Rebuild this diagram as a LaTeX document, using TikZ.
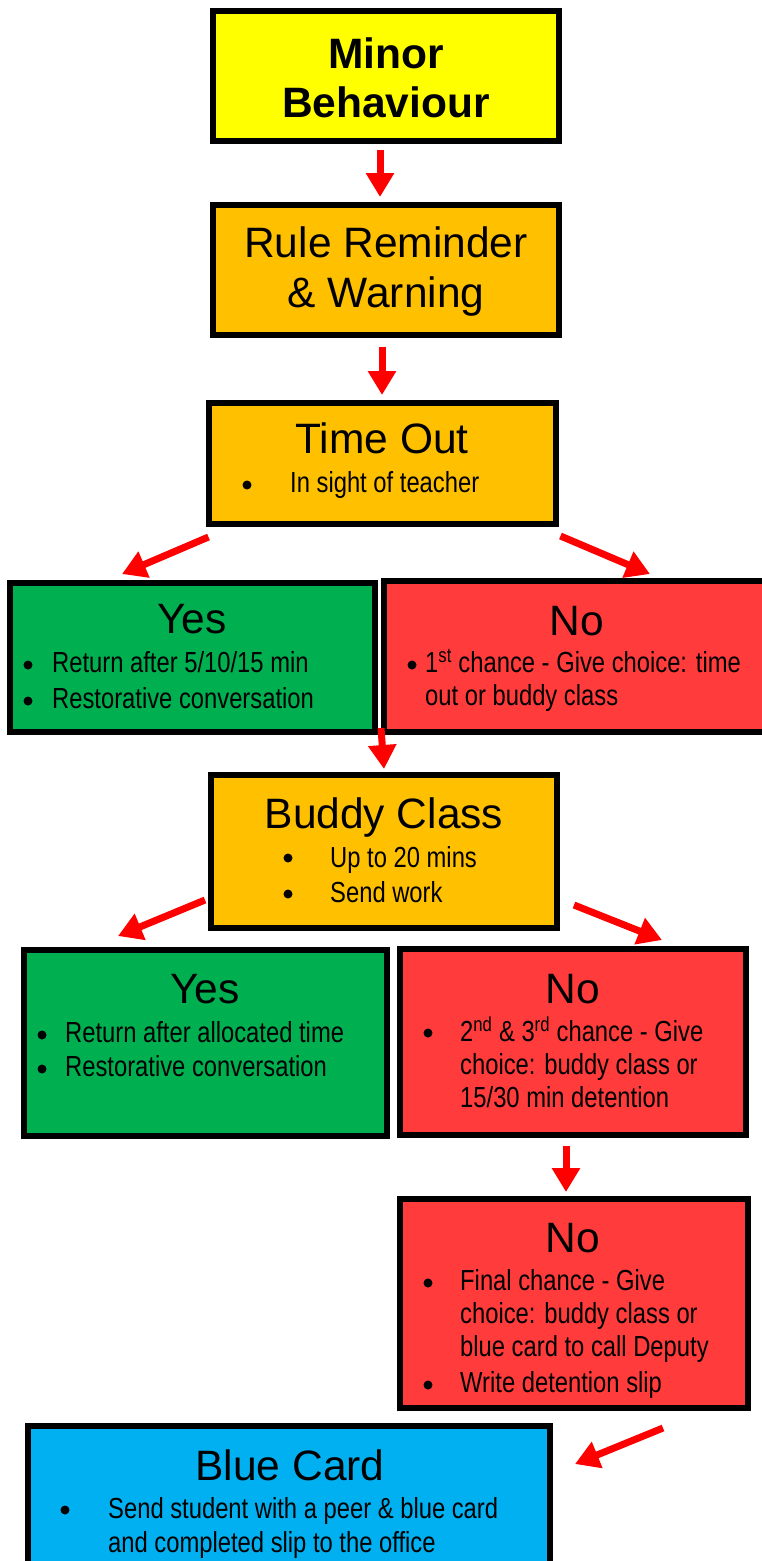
\documentclass[tikz,border=0pt]{standalone}
\usepackage{fontspec}
\setmainfont{Liberation Sans}
\newfontfamily\narrowfont[FakeStretch=0.82]{Liberation Sans}
\usepackage{xcolor}
\usetikzlibrary{arrows.meta, positioning, calc}
\definecolor{minoryellow}{HTML}{FFFF00}
\definecolor{stepamber}{HTML}{FFC000}
\definecolor{yesgreen}{HTML}{00B050}
\definecolor{nored}{HTML}{FF3B3B}
\definecolor{cardblue}{HTML}{00B0F0}
\definecolor{arrowred}{HTML}{FF0000}
\tikzset{
  box/.style={draw=black, line width=6pt, rectangle, inner sep=0pt},
  heading/.style={anchor=base, inner sep=0pt, font=\fontsize{42.5}{48}\selectfont},
  point/.style={anchor=base west, inner sep=0pt, font=\narrowfont\fontsize{29}{34}\selectfont},
  dot/.style={circle, fill=black, inner sep=0pt, minimum size=9pt},
  flow/.style={draw=arrowred, line width=7pt, -{Triangle[width=27pt,length=24pt]}}
}
\begin{document}
\begin{tikzpicture}[x=1pt, y=-1pt]
      \useasboundingbox (0,0) rectangle (761,1561);

      % boxes
      \node[box, fill=minoryellow, minimum width=346pt, minimum height=130pt] (minor) at (386,76) {};
      \node[box, fill=stepamber, minimum width=346pt, minimum height=130pt] (rule) at (386,270) {};
      \node[box, fill=stepamber, minimum width=347pt, minimum height=121pt] (timeout) at (382.5,463.5) {};
      \node[box, fill=yesgreen, minimum width=365pt, minimum height=149pt] (yes1) at (192.5,657.5) {};
      \node[box, fill=nored, minimum width=385pt, minimum height=151pt] (no1) at (576.5,656.5) {};
      \node[box, fill=stepamber, minimum width=346pt, minimum height=153pt] (buddy) at (384,851.5) {};
      \node[box, fill=yesgreen, minimum width=363pt, minimum height=186pt] (yes2) at (205,1043) {};
      \node[box, fill=nored, minimum width=346pt, minimum height=186pt] (no2) at (573,1042) {};
      \node[box, fill=nored, minimum width=348pt, minimum height=209pt] (no3) at (574,1303.5) {};
      \node[box, fill=cardblue, minimum width=522pt, minimum height=151pt] (blue) at (289,1501.5) {};

      % texts
      \node[heading, font=\bfseries\fontsize{42.5}{48}\selectfont] (minorA) at (386,68) {Minor};
      \node[heading, font=\bfseries\fontsize{42.5}{48}\selectfont] (minorB) at (386,117) {Behaviour};
      \node[heading] (ruleA) at (386,257) {Rule Reminder};
      \node[heading] (ruleB) at (386,307) {\& Warning};

      \node[heading] (timeoutT) at (382,453) {Time Out};
      \node[dot] (timeoutD) at (247,485) {};
      \node[point] (timeoutP) at (290,492) {In sight of teacher};

      \node[heading] (yes1T) at (192,633) {Yes};
      \node[dot] (yes1Da) at (28,665) {};
      \node[point] (yes1Pa) at (52,672) {Return after 5/10/15 min};
      \node[dot] (yes1Db) at (28,701) {};
      \node[point] (yes1Pb) at (52,708) {Restorative conversation};

      \node[heading] (no1T) at (577,635) {No};
      \node[dot] (no1D) at (412,665) {};
      \node[point] (no1Pa) at (425,672) {1\textsuperscript{st} chance - Give choice: time};
      \node[point] (no1Pb) at (425,705) {out or buddy class};

      \node[heading] (buddyT) at (384,828) {Buddy Class};
      \node[dot] (buddyDa) at (288,858) {};
      \node[point] (buddyPa) at (330,867) {Up to 20 mins};
      \node[dot] (buddyDb) at (288,894) {};
      \node[point] (buddyPb) at (330,902) {Send work};

      \node[heading] (yes2T) at (205,1003) {Yes};
      \node[dot] (yes2Da) at (42,1035) {};
      \node[point] (yes2Pa) at (65,1042) {Return after allocated time};
      \node[dot] (yes2Db) at (42,1069) {};
      \node[point] (yes2Pb) at (65,1076) {Restorative conversation};

      \node[heading] (no2T) at (573,1003) {No};
      \node[dot] (no2D) at (428,1033) {};
      \node[point] (no2Pa) at (460,1041) {2\textsuperscript{nd} \& 3\textsuperscript{rd} chance - Give};
      \node[point] (no2Pb) at (460,1074) {choice: buddy class or};
      \node[point] (no2Pc) at (460,1107) {15/30 min detention};

      \node[heading] (no3T) at (573,1252) {No};
      \node[dot] (no3Da) at (428,1283) {};
      \node[point] (no3Pa) at (460,1290) {Final chance - Give};
      \node[point] (no3Pb) at (460,1323) {choice: buddy class or};
      \node[point] (no3Pc) at (460,1356) {blue card to call Deputy};
      \node[dot] (no3Db) at (428,1385) {};
      \node[point] (no3Pd) at (460,1392) {Write detention slip};

      \node[heading] (blueT) at (290,1480) {Blue Card};
      \node[dot] (blueD) at (65,1510) {};
      \node[point] (bluePa) at (108,1518) {Send student with a peer \& blue card};
      \node[point] (bluePb) at (108,1552) {and completed slip to the office};

      % arrows
      \draw[flow] ($(minor.south)+(-6,6)$) -- ($(rule.north)+(-6,-5)$);
      \draw[flow] ($(rule.south)+(-4,9)$) -- ($(timeout.north)+(-0.5,-5)$);
      \draw[flow] ($(timeout.south west)+(2.5,10)$) -- ($(yes1.north)+(-70.5,-6)$);
      \draw[flow] ($(timeout.south east)+(1.5,9)$) -- ($(no1.north)+(73.5,-4)$);
      \draw[flow] ($(no1.south west)+(0,-7)$) -- ($(buddy.north)+(0,-3)$);
      \draw[flow] ($(buddy.south west)+(-3,-31)$) -- ($(yes2.north)+(-87,-11)$);
      \draw[flow] ($(buddy.south east)+(14,-26)$) -- ($(no2.north)+(89,-6)$);
      \draw[flow] ($(no2.south)+(-7,8)$) -- ($(no3.north)+(-8,-4)$);
      \draw[flow] ($(no3.south east)+(-88,17)$) -- ($(blue.north east)+(22,41)$);
    \end{tikzpicture}
\end{document}
